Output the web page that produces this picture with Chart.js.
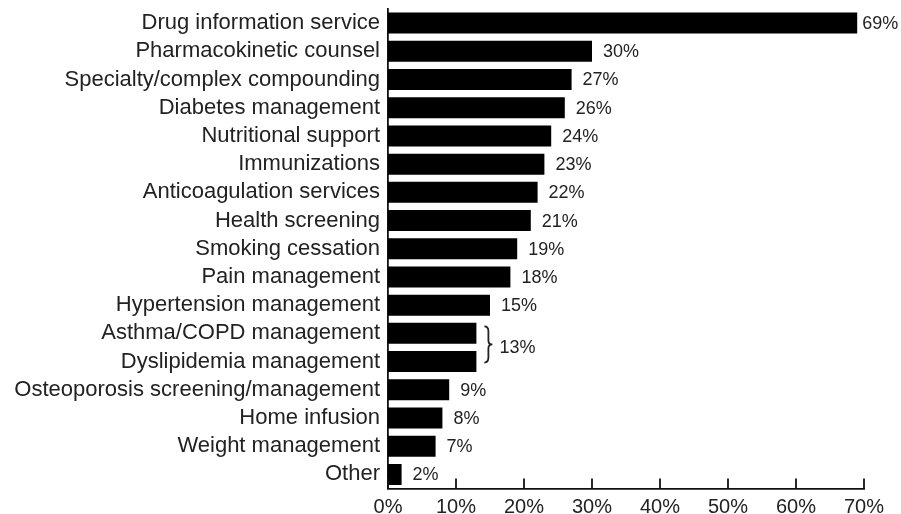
<!DOCTYPE html>
<html>
<head>
<meta charset="utf-8">
<script src="https://cdn.jsdelivr.net/npm/chart.js@4"></script>
<style>
html,body{margin:0;padding:0;background:#fff;}
#wrap{width:901px;height:514px;position:relative;}
</style>
</head>
<body>
<div id="wrap"><canvas id="c" width="901" height="514"></canvas></div>
<script>
const categories = [
  "Drug information service",
  "Pharmacokinetic counsel",
  "Specialty/complex compounding",
  "Diabetes management",
  "Nutritional support",
  "Immunizations",
  "Anticoagulation services",
  "Health screening",
  "Smoking cessation",
  "Pain management",
  "Hypertension management",
  "Asthma/COPD management",
  "Dyslipidemia management",
  "Osteoporosis screening/management",
  "Home infusion",
  "Weight management",
  "Other"
];
const values = [69, 30, 27, 26, 24, 23, 22, 21, 19, 18, 15, 13, 13, 9, 8, 7, 2];
const valueLabels = ["69%","30%","27%","26%","24%","23%","22%","21%","19%","18%","15%","13%","13%","9%","8%","7%","2%"];
const xTicks = [0, 10, 20, 30, 40, 50, 60, 70];
const bracedPair = [11, 12]; // indices sharing one label "13%"

const FONT = "'Liberation Sans', Arial, Helvetica, sans-serif";
const TEXT = "#222";

const annotate = {
  id: 'annotate',
  afterDatasetsDraw(chart) {
    const ctx = chart.ctx;
    const meta = chart.getDatasetMeta(0);
    const xs = chart.scales.x;
    const area = chart.chartArea;
    ctx.save();
    // axis ticks pointing up
    ctx.strokeStyle = '#111';
    ctx.lineWidth = 1.8;
    xTicks.forEach(v => {
      const px = xs.getPixelForValue(v);
      ctx.beginPath();
      ctx.moveTo(px, area.bottom);
      ctx.lineTo(px, area.bottom - 10);
      ctx.stroke();
    });
    // value labels
    ctx.fillStyle = TEXT;
    ctx.font = '18px ' + FONT;
    ctx.textBaseline = 'middle';
    ctx.textAlign = 'left';
    meta.data.forEach((bar, i) => {
      if (bracedPair.includes(i)) return;
      const off = i === 0 ? 5 : 11;
      ctx.fillText(valueLabels[i], bar.x + off, bar.y + 1);
    });
    // brace for shared label
    const b1 = meta.data[bracedPair[0]], b2 = meta.data[bracedPair[1]];
    const bx = Math.max(b1.x, b2.x) + 8;
    const top = b1.y - 7, bot = b2.y + 1, mid = (top + bot) / 2;
    ctx.strokeStyle = '#222';
    ctx.lineWidth = 1.8;
    ctx.beginPath();
    ctx.moveTo(bx, top);
    ctx.quadraticCurveTo(bx + 4, top, bx + 4, top + 5);
    ctx.lineTo(bx + 4, mid - 4);
    ctx.quadraticCurveTo(bx + 4, mid, bx + 8, mid);
    ctx.quadraticCurveTo(bx + 4, mid, bx + 4, mid + 4);
    ctx.lineTo(bx + 4, bot - 5);
    ctx.quadraticCurveTo(bx + 4, bot, bx, bot);
    ctx.stroke();
    ctx.fillText(valueLabels[bracedPair[0]], bx + 15, (b1.y + b2.y) / 2 + 1);
    ctx.restore();
  }
};

new Chart(document.getElementById('c'), {
  type: 'bar',
  data: {
    labels: categories,
    datasets: [{
      data: values,
      backgroundColor: '#000',
      borderWidth: 0,
      barPercentage: 1.0,
      categoryPercentage: 0.745
    }]
  },
  options: {
    indexAxis: 'y',
    responsive: false,
    animation: false,
    devicePixelRatio: 1,
    layout: { padding: { left: 0, right: 37, top: 9, bottom: 0 } },
    plugins: { legend: { display: false }, tooltip: { enabled: false } },
    scales: {
      x: {
        min: 0, max: 70,
        afterBuildTicks(scale) { scale.ticks = xTicks.map(v => ({ value: v })); },
        afterFit(scale) { scale.height = 25.5; scale.paddingLeft = 0; scale.paddingRight = 0; },
        grid: { display: false, drawTicks: false },
        border: { display: true, color: '#111', width: 1.8 },
        ticks: {
          padding: 7,
          color: TEXT,
          font: { family: FONT, size: 20 },
          callback: v => v + '%'
        }
      },
      y: {
        grid: { display: false, drawTicks: false },
        border: { display: true, color: '#111', width: 1.8 },
        afterFit(scale) { scale.width = 388; scale.paddingTop = 0; scale.paddingBottom = 0; },
        ticks: {
          padding: 8,
          color: TEXT,
          autoSkip: false,
          font: { family: FONT, size: 22 }
        }
      }
    }
  },
  plugins: [annotate]
});
</script>
</body>
</html>
